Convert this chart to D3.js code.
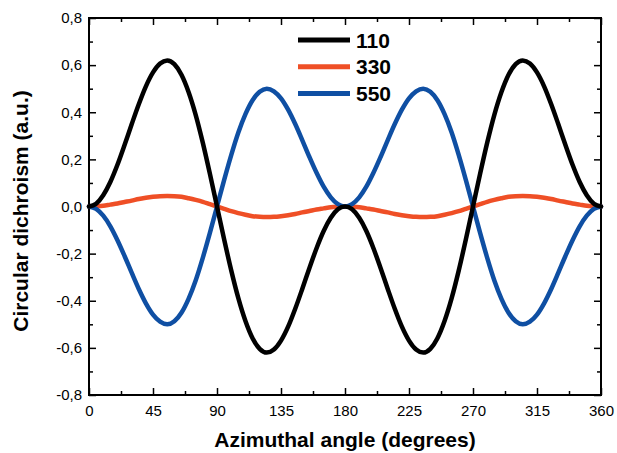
<!DOCTYPE html>
<html>
<head>
<meta charset="utf-8">
<script src="https://d3js.org/d3.v7.min.js"></script>
<style>
body { margin: 0; background: #ffffff; }
svg { font-family: "Liberation Sans", Arial, sans-serif; }
.axis text { font-size: 15px; fill: #000; }
.axis line { stroke: #000; stroke-width: 1.5px; }
.axis path { display: none; }
.frame { fill: none; stroke: #000; stroke-width: 2px; }
.title { font-size: 21px; font-weight: bold; fill: #000; }
.legend text { font-size: 21px; font-weight: bold; fill: #000; }
.curve { fill: none; stroke-width: 4.5px; stroke-linejoin: round; stroke-linecap: round; }
</style>
</head>
<body>
<svg id="chart" width="617" height="453"></svg>
<script>
// azimuthal angle (degrees), read every 5 degrees
var angles = [0, 5, 10, 15, 20, 25, 30, 35, 40, 45, 50, 55, 60, 65, 70, 75, 80, 85, 90,
  95, 100, 105, 110, 115, 120, 125, 130, 135, 140, 145, 150, 155, 160, 165, 170, 175, 180,
  185, 190, 195, 200, 205, 210, 215, 220, 225, 230, 235, 240, 245, 250, 255, 260, 265, 270,
  275, 280, 285, 290, 295, 300, 305, 310, 315, 320, 325, 330, 335, 340, 345, 350, 355, 360];

var cd110 = [0, 0.012, 0.048, 0.104, 0.177, 0.261, 0.349, 0.434, 0.510, 0.569, 0.607, 0.620, 0.604, 0.559, 0.486, 0.389, 0.271, 0.139, 0,
  -0.139, -0.271, -0.389, -0.486, -0.559, -0.604, -0.620, -0.607, -0.569, -0.510, -0.434, -0.349, -0.261, -0.177, -0.104, -0.048, -0.012, 0,
  -0.012, -0.048, -0.104, -0.177, -0.261, -0.349, -0.434, -0.510, -0.569, -0.607, -0.620, -0.604, -0.559, -0.486, -0.389, -0.271, -0.139, 0,
  0.139, 0.271, 0.389, 0.486, 0.559, 0.604, 0.620, 0.607, 0.569, 0.510, 0.434, 0.349, 0.261, 0.177, 0.104, 0.048, 0.012, 0];

var cd330 = [0, 0.001, 0.003, 0.008, 0.013, 0.019, 0.025, 0.032, 0.037, 0.041, 0.044, 0.045, 0.044, 0.041, 0.035, 0.028, 0.020, 0.010, 0,
  -0.010, -0.020, -0.028, -0.035, -0.041, -0.044, -0.045, -0.044, -0.041, -0.037, -0.032, -0.025, -0.019, -0.013, -0.008, -0.003, -0.001, 0,
  -0.001, -0.003, -0.008, -0.013, -0.019, -0.025, -0.032, -0.037, -0.041, -0.044, -0.045, -0.044, -0.041, -0.035, -0.028, -0.020, -0.010, 0,
  0.010, 0.020, 0.028, 0.035, 0.041, 0.044, 0.045, 0.044, 0.041, 0.037, 0.032, 0.025, 0.019, 0.013, 0.008, 0.003, 0.001, 0];

var cd550 = [0, -0.010, -0.039, -0.084, -0.143, -0.210, -0.281, -0.350, -0.411, -0.459, -0.489, -0.500, -0.487, -0.451, -0.392, -0.314, -0.218, -0.112, 0,
  0.112, 0.218, 0.314, 0.392, 0.451, 0.487, 0.500, 0.489, 0.459, 0.411, 0.350, 0.281, 0.210, 0.143, 0.084, 0.039, 0.010, 0,
  0.010, 0.039, 0.084, 0.143, 0.210, 0.281, 0.350, 0.411, 0.459, 0.489, 0.500, 0.487, 0.451, 0.392, 0.314, 0.218, 0.112, 0,
  -0.112, -0.218, -0.314, -0.392, -0.451, -0.487, -0.500, -0.489, -0.459, -0.411, -0.350, -0.281, -0.210, -0.143, -0.084, -0.039, -0.010, 0];

var seriesNames = ["110", "330", "550"];
var seriesColors = ["#000000", "#ef4f26", "#0f4fa3"];

var xTicks = [0, 45, 90, 135, 180, 225, 270, 315, 360];
var xMinorTicks = [22.5, 67.5, 112.5, 157.5, 202.5, 247.5, 292.5, 337.5];
var yTicks = [-0.8, -0.6, -0.4, -0.2, 0, 0.2, 0.4, 0.6, 0.8];
var yMinorTicks = [-0.7, -0.5, -0.3, -0.1, 0.1, 0.3, 0.5, 0.7];

var xLabel = "Azimuthal angle (degrees)";
var yLabel = "Circular dichroism (a.u.)";

var margin = {top: 18, right: 16, bottom: 58, left: 89};
var width = 617 - margin.left - margin.right,
    height = 453 - margin.top - margin.bottom;

var svg = d3.select("#chart");
var g = svg.append("g")
  .attr("transform", `translate(${margin.left},${margin.top})`);

var x = d3.scaleLinear().domain([0, 360]).range([0, width]);
var y = d3.scaleLinear().domain([-0.8, 0.8]).range([height, 0]);

var comma = d3.formatLocale({decimal: ",", thousands: ".", grouping: [3], currency: ["", ""], minus: "-"});
var yFmt = comma.format(".1f");

// major + minor ticks on all four sides, pointing inward
g.append("g").attr("class", "axis")
  .attr("transform", `translate(0,${height})`)
  .call(d3.axisBottom(x).tickValues(xTicks).tickSize(-7).tickPadding(10));
g.append("g").attr("class", "axis")
  .attr("transform", `translate(0,${height})`)
  .call(d3.axisBottom(x).tickValues(xMinorTicks).tickSize(-4).tickFormat(""));
g.append("g").attr("class", "axis")
  .call(d3.axisTop(x).tickValues(xTicks).tickSize(-7).tickFormat(""));
g.append("g").attr("class", "axis")
  .call(d3.axisTop(x).tickValues(xMinorTicks).tickSize(-4).tickFormat(""));

g.append("g").attr("class", "axis")
  .call(d3.axisLeft(y).tickValues(yTicks).tickSize(-7).tickPadding(7).tickFormat(yFmt));
g.append("g").attr("class", "axis")
  .call(d3.axisLeft(y).tickValues(yMinorTicks).tickSize(-4).tickFormat(""));
g.append("g").attr("class", "axis")
  .attr("transform", `translate(${width},0)`)
  .call(d3.axisRight(y).tickValues(yTicks).tickSize(-7).tickFormat(""));
g.append("g").attr("class", "axis")
  .attr("transform", `translate(${width},0)`)
  .call(d3.axisRight(y).tickValues(yMinorTicks).tickSize(-4).tickFormat(""));

g.append("rect").attr("class", "frame")
  .attr("width", width).attr("height", height);

// curves
var series = [cd110, cd330, cd550];
var line = d3.line()
  .x((d, i) => x(angles[i]))
  .y(d => y(d))
  .curve(d3.curveMonotoneX);

// red first, then blue, black on top
var order = [1, 2, 0];
order.forEach(function(k) {
  g.append("path")
    .attr("class", "curve")
    .attr("stroke", seriesColors[k])
    .attr("d", line(series[k]));
});

// legend
var legend = g.append("g").attr("class", "legend")
  .attr("transform", "translate(209,22)");
seriesNames.forEach(function(name, i) {
  var row = legend.append("g").attr("transform", `translate(0,${i * 26.7})`);
  row.append("line")
    .attr("x1", 0).attr("x2", 52)
    .attr("stroke", seriesColors[i])
    .attr("stroke-width", 5);
  row.append("text")
    .attr("x", 58).attr("dy", "0.36em")
    .text(name);
});

// axis titles
svg.append("text").attr("class", "title")
  .attr("x", margin.left + width / 2)
  .attr("y", 447)
  .attr("text-anchor", "middle")
  .text(xLabel);

svg.append("text").attr("class", "title")
  .attr("transform", "translate(28,211) rotate(-90)")
  .attr("text-anchor", "middle")
  .text(yLabel);
</script>
</body>
</html>
